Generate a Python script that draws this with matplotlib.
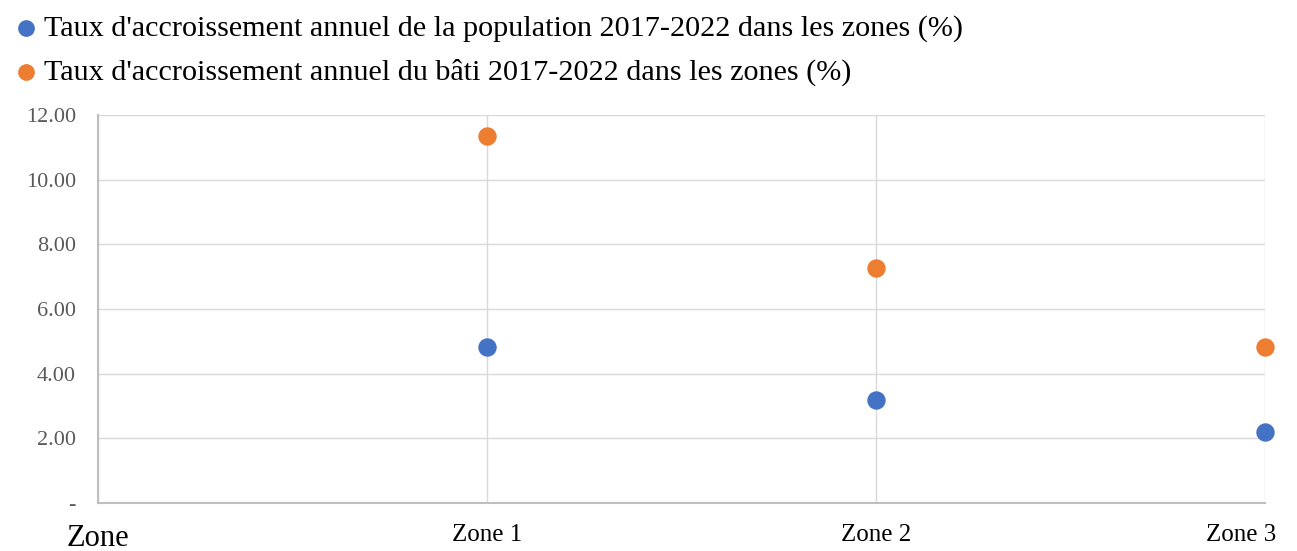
import matplotlib.pyplot as plt

zones = ["Zone", "Zone 1", "Zone 2", "Zone 3"]
x_pos = [1, 2, 3]
pop_rate = [4.83, 3.19, 2.20]
bati_rate = [11.35, 7.27, 4.83]
y_ticks = [0, 2, 4, 6, 8, 10, 12]

plt.rcParams['font.family'] = ['Liberation Serif', 'DejaVu Serif']

fig = plt.figure(figsize=(12.97, 5.51), dpi=100)
ax = fig.add_axes([0.0756, 0.0871, 0.8997, 0.7042])

p1 = ax.scatter(x_pos, pop_rate, s=150, color='#4472C4', zorder=3, clip_on=False,
                label="Taux d'accroissement annuel de la population 2017-2022 dans les zones (%)")
p2 = ax.scatter(x_pos, bati_rate, s=150, color='#ED7D31', zorder=3, clip_on=False,
                label="Taux d'accroissement annuel du bâti 2017-2022 dans les zones (%)")

ax.set_xlim(0, 3)
ax.set_ylim(0, 12)
ax.set_xticks(range(len(zones)))
# last label is pulled inside the figure, as in the original
ax.set_xticklabels(zones[:-1] + [''], fontsize=18)
ax.get_xticklabels()[0].set_fontsize(22)
ax.annotate(zones[-1], xy=(3, 0), xycoords='data', xytext=(-17, -15),
            textcoords='offset points', ha='center', va='top', fontsize=18,
            annotation_clip=False)
ax.set_yticks(y_ticks)
ax.set_yticklabels(['-'] + ['%.2f' % v for v in y_ticks[1:]], fontsize=16, color='#595959')
ax.tick_params(axis='y', length=0, pad=16)
ax.tick_params(axis='x', length=0, pad=15)

ax.grid(True, color='#D9D9D9', linewidth=1)
ax.set_axisbelow(True)
for s in ['top', 'right']:
    ax.spines[s].set_visible(False)
for s in ['left', 'bottom']:
    ax.spines[s].set_color('#BFBFBF')
    ax.spines[s].set_linewidth(1.5)

fig.legend(handles=[p1, p2], loc='upper left', bbox_to_anchor=(0.0, 0.995),
           frameon=False, fontsize=21.7, handlelength=0.9, handletextpad=0.15,
           labelspacing=0.55, borderaxespad=0.0, borderpad=0.4, markerscale=0.9)

fig.savefig('out.png', dpi=100)
